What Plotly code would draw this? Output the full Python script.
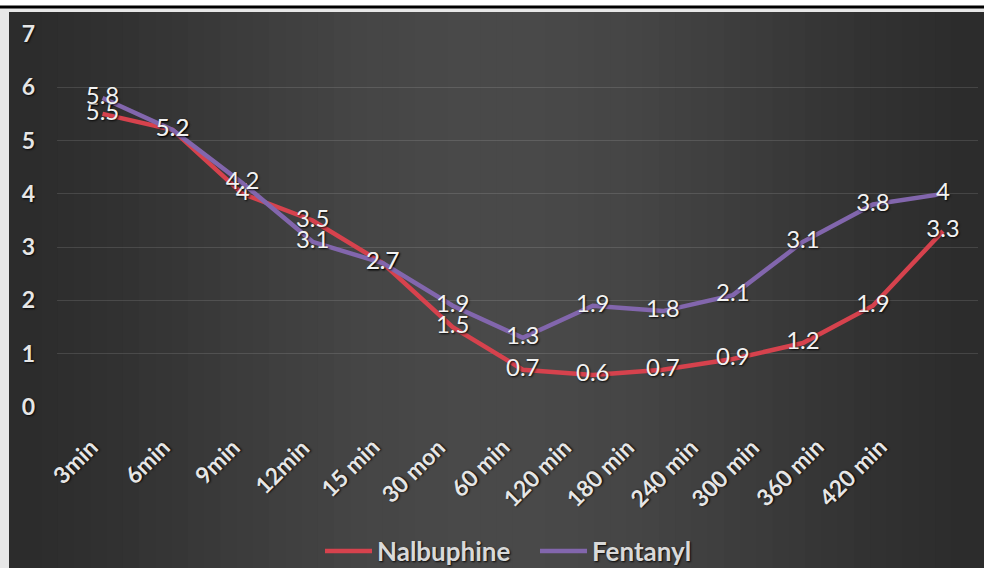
import math
import plotly.graph_objects as go

categories = ["3min", "6min", "9min", "12min", "15 min", "30 mon", "60 min",
              "120 min", "180 min", "240 min", "300 min", "360 min", "420 min"]
nalbuphine = [5.5, 5.2, 4, 3.5, 2.7, 1.5, 0.7, 0.6, 0.7, 0.9, 1.2, 1.9, 3.3]
fentanyl = [5.8, 5.2, 4.2, 3.1, 2.7, 1.9, 1.3, 1.9, 1.8, 2.1, 3.1, 3.8, 4]
y_ticks = [0, 1, 2, 3, 4, 5, 6, 7]

# horizontal nudges (px) of the rotated category labels, as drawn in the original
label_nudge = [3, 5, 5, 5, 5, 1, -5, -13, -20, -26, -35, -41, -48]

W, H = 984, 568
L, R, T, B = 57, 6, 34, 161
PW, PH = W - L - R, H - T - B

def px(xp):
    return (xp - L) / PW

def py(yp):
    return (H - B - yp) / PH

FONT = "Lato"
TXT = "#e6e6e6"
shadow = "1px 1px 2px rgba(0,0,0,0.9)"

fig = go.Figure()
fig.add_trace(go.Scatter(
    x=categories, y=nalbuphine, name="Nalbuphine", mode="lines+text",
    line=dict(color="#d6424d", width=4.5),
    text=[str(v) for v in nalbuphine], textposition="middle center",
    textfont=dict(family=FONT, size=24, color="#f2f2f2", shadow=shadow),
    cliponaxis=False,
))
fig.add_trace(go.Scatter(
    x=categories, y=fentanyl, name="Fentanyl", mode="lines+text",
    line=dict(color="#8266ad", width=4.5),
    text=[str(v) for v in fentanyl], textposition="middle center",
    textfont=dict(family=FONT, size=24, color="#f2f2f2", shadow=shadow),
    cliponaxis=False,
))

shapes = []
shapes.append(dict(type="rect", xref="paper", yref="paper", x0=px(0), x1=px(W), y0=py(0), y1=py(6),
                   fillcolor="white", line_width=0, layer="below"))
shapes.append(dict(type="rect", xref="paper", yref="paper", x0=px(0), x1=px(W), y0=py(5.5), y1=py(8.5),
                   fillcolor="black", line_width=0, layer="below"))
n = 60
x_start, x_end = 9, W
for i in range(n):
    a = x_start + (x_end - x_start) * i / n
    b = x_start + (x_end - x_start) * (i + 1) / n
    t = (i + 0.5) / n
    c = 0.5 - 0.5 * math.cos(2 * math.pi * t)
    c = c ** 0.8
    v = int(round(44 + (73 - 44) * c))
    col = f"rgb({v},{v},{v})"
    shapes.append(dict(type="rect", xref="paper", yref="paper", x0=px(a), x1=px(b) + 0.002,
                       y0=py(H + 2), y1=py(12), fillcolor=col, line_width=0, layer="below"))

annotations = []
for cat, nudge in zip(categories, label_nudge):
    annotations.append(dict(
        x=cat, xref="x", y=py(430), yref="paper", text=cat, showarrow=False,
        textangle=-45, xanchor="right", yanchor="top", xshift=nudge,
        font=dict(family=FONT, size=23, color=TXT, weight="bold", shadow=shadow),
    ))

fig.update_layout(
    width=W, height=H,
    margin=dict(l=L, r=R, t=T, b=B, autoexpand=False),
    paper_bgcolor="#e7e7e7",
    plot_bgcolor="rgba(0,0,0,0)",
    shapes=shapes,
    annotations=annotations,
    showlegend=True,
    legend=dict(orientation="h", x=px(535), xanchor="center", y=py(551), yanchor="middle",
                font=dict(family=FONT, size=26, color="#d9d9d9", weight="bold", shadow=shadow),
                bgcolor="rgba(0,0,0,0)", itemwidth=47, tracegroupgap=0,
                entrywidth=153, entrywidthmode="pixels"),
    xaxis=dict(
        type="category", range=[-0.65, 12.5],
        showticklabels=False,
        showgrid=False, zeroline=False, showline=False, ticks="",
    ),
    yaxis=dict(
        range=[0, 7], tickvals=y_ticks, showgrid=True,
        gridcolor="rgba(255,255,255,0.12)", gridwidth=1, zeroline=False, showline=False,
        tickfont=dict(family=FONT, size=23, color=TXT, weight="bold", shadow=shadow),
        ticks="", ticklabelstandoff=21,
    ),
)

fig.write_html("out.html")
